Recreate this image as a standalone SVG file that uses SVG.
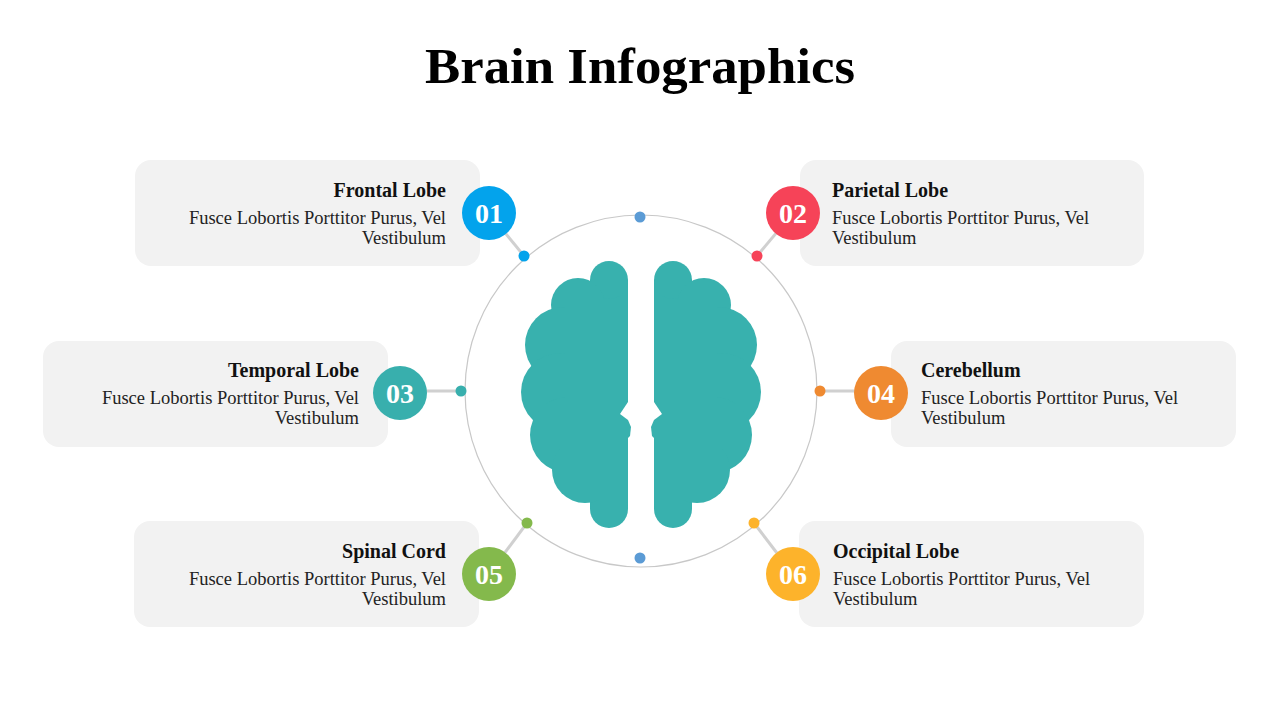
<svg xmlns="http://www.w3.org/2000/svg" width="1280" height="720" viewBox="0 0 1280 720">
<style>
.box{fill:#f2f2f2}
.h{font-family:"Liberation Serif",serif;font-weight:bold;font-size:20px;fill:#111}
.b{font-family:"Liberation Serif",serif;font-size:18.5px;fill:#222}
.n{font-family:"Liberation Serif",serif;font-weight:bold;font-size:28px;fill:#fff;text-anchor:middle}
.ln{stroke:#d0d0d0;stroke-width:3}
.br{fill:#38b1ae}
</style>
<rect width="1280" height="720" fill="#fff"/>
<text x="640" y="83" text-anchor="middle" font-family="Liberation Serif,serif" font-weight="bold" font-size="50" fill="#000" textLength="430" lengthAdjust="spacingAndGlyphs">Brain Infographics</text>
<g id="connectors">
<circle cx="641" cy="391" r="176" fill="none" stroke="#c8c8c8" stroke-width="1.2"/>
<line class="ln" x1="489" y1="213" x2="524" y2="256"/>
<line class="ln" x1="793" y1="213" x2="757" y2="256"/>
<line class="ln" x1="400" y1="391" x2="465" y2="391"/>
<line class="ln" x1="881" y1="391" x2="817" y2="391"/>
<line class="ln" x1="489" y1="574" x2="527" y2="523"/>
<line class="ln" x1="793" y1="574" x2="754" y2="523"/>
<circle cx="640" cy="217" r="5.5" fill="#5b9bd5"/>
<circle cx="640" cy="558" r="5.5" fill="#5b9bd5"/>
</g>
<g id="brain">
<g id="left-half" class="br">
<rect x="590" y="280" width="38" height="229"/>
<circle cx="609" cy="280" r="19"/><circle cx="609" cy="509" r="19"/>
<circle cx="578" cy="305" r="27"/><circle cx="563" cy="345" r="38"/>
<circle cx="560" cy="392" r="39"/><circle cx="568" cy="435" r="38"/>
<circle cx="585" cy="470" r="33"/>
<rect x="565" y="300" width="63" height="170"/>
<rect x="590" y="440" width="38" height="60"/>
<path d="M628 420 L631 427 L630 436 L628 438 Z"/>
</g>
<path d="M628 402 L620 414 L628 420 Z" fill="#fff"/>
<g id="right-half" class="br" transform="translate(1282,0) scale(-1,1)">
<rect x="590" y="280" width="38" height="229"/>
<circle cx="609" cy="280" r="19"/><circle cx="609" cy="509" r="19"/>
<circle cx="578" cy="305" r="27"/><circle cx="563" cy="345" r="38"/>
<circle cx="560" cy="392" r="39"/><circle cx="568" cy="435" r="38"/>
<circle cx="585" cy="470" r="33"/>
<rect x="565" y="300" width="63" height="170"/>
<rect x="590" y="440" width="38" height="60"/>
<path d="M628 420 L631 427 L630 436 L628 438 Z"/>
<path d="M628 402 L620 414 L628 420 Z" fill="#fff"/>
</g>
</g>
<g id="node1">
<rect class="box" x="135" y="160" width="345" height="106" rx="16"/>
<text class="h" x="446" y="197" text-anchor="end">Frontal Lobe</text>
<text class="b" x="446" y="224" text-anchor="end">Fusce Lobortis Porttitor Purus, Vel</text>
<text class="b" x="446" y="244" text-anchor="end">Vestibulum</text>
<circle cx="489" cy="213" r="27" fill="#03a3ec"/><text class="n" x="489" y="223">01</text>
<circle cx="524" cy="256" r="5.5" fill="#03a3ec"/>
</g>
<g id="node2">
<rect class="box" x="800" y="160" width="344" height="106" rx="16"/>
<text class="h" x="832" y="197">Parietal Lobe</text>
<text class="b" x="832" y="224">Fusce Lobortis Porttitor Purus, Vel</text>
<text class="b" x="832" y="244">Vestibulum</text>
<circle cx="793" cy="213" r="27" fill="#f64358"/><text class="n" x="793" y="223">02</text>
<circle cx="757" cy="256" r="5.5" fill="#f64358"/>
</g>
<g id="node3">
<rect class="box" x="43" y="341" width="345" height="106" rx="16"/>
<text class="h" x="359" y="377" text-anchor="end">Temporal Lobe</text>
<text class="b" x="359" y="404" text-anchor="end">Fusce Lobortis Porttitor Purus, Vel</text>
<text class="b" x="359" y="424" text-anchor="end">Vestibulum</text>
<circle cx="400" cy="393" r="27" fill="#38afad"/><text class="n" x="400" y="403">03</text>
<circle cx="461" cy="391" r="5.5" fill="#38afad"/>
</g>
<g id="node4">
<rect class="box" x="891" y="341" width="345" height="106" rx="16"/>
<text class="h" x="921" y="377">Cerebellum</text>
<text class="b" x="921" y="404">Fusce Lobortis Porttitor Purus, Vel</text>
<text class="b" x="921" y="424">Vestibulum</text>
<circle cx="881" cy="393" r="27" fill="#ef8a31"/><text class="n" x="881" y="403">04</text>
<circle cx="820" cy="391" r="5.5" fill="#ef8a31"/>
</g>
<g id="node5">
<rect class="box" x="134" y="521" width="345" height="106" rx="16"/>
<text class="h" x="446" y="558" text-anchor="end">Spinal Cord</text>
<text class="b" x="446" y="585" text-anchor="end">Fusce Lobortis Porttitor Purus, Vel</text>
<text class="b" x="446" y="605" text-anchor="end">Vestibulum</text>
<circle cx="489" cy="574" r="27" fill="#84b94c"/><text class="n" x="489" y="584">05</text>
<circle cx="527" cy="523" r="5.5" fill="#84b94c"/>
</g>
<g id="node6">
<rect class="box" x="799" y="521" width="345" height="106" rx="16"/>
<text class="h" x="833" y="558">Occipital Lobe</text>
<text class="b" x="833" y="585">Fusce Lobortis Porttitor Purus, Vel</text>
<text class="b" x="833" y="605">Vestibulum</text>
<circle cx="793" cy="574" r="27" fill="#fdb32b"/><text class="n" x="793" y="584">06</text>
<circle cx="754" cy="523" r="5.5" fill="#fdb32b"/>
</g>
</svg>
